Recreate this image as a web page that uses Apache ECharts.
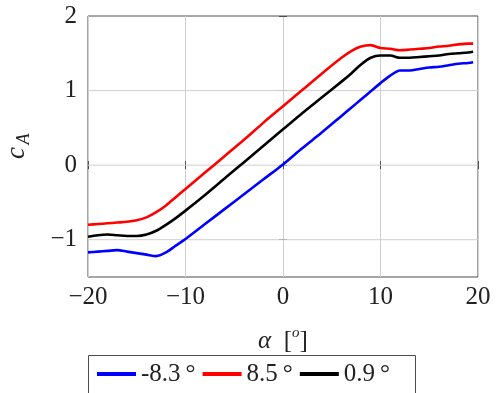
<!DOCTYPE html>
<html>
<head>
<meta charset="utf-8">
<script src="https://cdn.jsdelivr.net/npm/echarts@6/dist/echarts.min.js"></script>
<style>html,body{margin:0;padding:0;background:#fff}#c{width:500px;height:393px}</style>
</head>
<body>
<div id="c"></div>
<script>
var alpha = [-20,-19,-18,-17,-16,-15,-14,-13,-12,-11,-10,-8,-6,-4,-2,0,2,4,6,7,8,9,10,11,12,13,14,15,16,17,18,19,19.5];
var blueVals = [-1.17,-1.16,-1.15,-1.14,-1.16,-1.18,-1.20,-1.22,-1.17,-1.08,-0.99,-0.79,-0.59,-0.39,-0.19,0.01,0.23,0.44,0.66,0.77,0.88,0.99,1.10,1.20,1.27,1.27,1.29,1.31,1.32,1.34,1.36,1.37,1.38];
var redVals = [-0.80,-0.79,-0.78,-0.77,-0.76,-0.74,-0.70,-0.63,-0.54,-0.43,-0.32,-0.10,0.12,0.34,0.57,0.79,1.01,1.23,1.44,1.53,1.59,1.61,1.57,1.56,1.54,1.55,1.56,1.57,1.59,1.60,1.62,1.63,1.63];
var blackVals = [-0.96,-0.94,-0.93,-0.94,-0.95,-0.95,-0.93,-0.88,-0.80,-0.71,-0.61,-0.40,-0.18,0.04,0.26,0.48,0.70,0.91,1.12,1.23,1.35,1.44,1.47,1.47,1.44,1.44,1.45,1.46,1.47,1.49,1.50,1.51,1.52];
var seriesNames = ['-8.3\u2009°', '8.5\u2009°', '0.9\u2009°'];
var xTicks = [-20,-10,0,10,20];
var yTicks = [-1,0,1,2];
var yGrid = [-1,0,1];
var xRange = [-20,20];

function pairs(v){ return alpha.map(function(a,i){ return [a, v[i]]; }); }
function fmt(v){ return '{n|' + String(v).replace('-', '\u2212') + '}'; }
var FONT = "Liberation Serif";
var chart = echarts.init(document.getElementById('c'), null, {renderer:'canvas'});
var axisCol = '#4d4d4d';
var txtCol = '#222';
var gridCol = '#cfcfcf';
var richN = {n:{fontFamily:FONT,fontSize:25,color:txtCol,lineHeight:28}};
var gridSeries = yGrid.map(function(v){
  return {name:'g'+v,type:'line',data:[[xRange[0],v],[xRange[1],v]],z:1,silent:true,showSymbol:false,
    lineStyle:{color:gridCol,width:1},itemStyle:{color:gridCol},emphasis:{disabled:true},tooltip:{show:false}};
});
chart.setOption({
  animation:false,
  backgroundColor:'#fff',
  textStyle:{fontFamily:FONT},
  grid:{left:88,right:22,top:16,bottom:116,show:true,borderColor:axisCol,borderWidth:1,containLabel:false},
  xAxis:[{
    type:'value',min:-20,max:20,interval:10,
    axisLine:{show:false},
    axisTick:{show:true,inside:true,length:4,lineStyle:{color:axisCol}},
    axisLabel:{margin:6,fontFamily:FONT,fontSize:25,color:txtCol,formatter:fmt,rich:richN},
    splitLine:{show:true,lineStyle:{color:gridCol,width:1}}
  },{
    type:'value',position:'top',min:-20,max:20,interval:10,
    axisLine:{show:false},axisLabel:{show:false},splitLine:{show:false},
    axisTick:{show:true,inside:true,length:4,lineStyle:{color:axisCol}}
  }],
  yAxis:[{
    type:'value',min:-1.5,max:2,interval:0.5,
    axisLine:{show:false},
    axisTick:{show:true,inside:true,length:4,customValues:yTicks,lineStyle:{color:axisCol}},
    axisLabel:{margin:11,fontFamily:FONT,fontSize:25,color:txtCol,customValues:yTicks,formatter:fmt,rich:richN},
    splitLine:{show:false}
  },{
    type:'value',position:'right',min:-1.5,max:2,interval:0.5,
    axisLine:{show:false},axisLabel:{show:false},splitLine:{show:false},
    axisTick:{show:true,inside:true,length:4,customValues:yTicks,lineStyle:{color:axisCol}}
  }],
  legend:{
    left:97,top:360,padding:0,itemGap:7,itemWidth:39,itemHeight:4,icon:'rect',
    textStyle:{fontFamily:FONT,fontSize:25,color:txtCol,lineHeight:28,rich:richN},
    formatter:function(name){ return '{n|' + name + '}'; },
    data:seriesNames
  },
  series:gridSeries.concat([
    {name:seriesNames[0],type:'line',data:pairs(blueVals),showSymbol:false,smooth:0.3,z:3,lineStyle:{color:'#0000ff',width:2.6},itemStyle:{color:'#0000ff'}},
    {name:seriesNames[1],type:'line',data:pairs(redVals),showSymbol:false,smooth:0.3,z:3,lineStyle:{color:'#ff0000',width:2.6},itemStyle:{color:'#ff0000'}},
    {name:seriesNames[2],type:'line',data:pairs(blackVals),showSymbol:false,smooth:0.3,z:3,lineStyle:{color:'#000000',width:2.6},itemStyle:{color:'#000000'}}
  ]),
  graphic:[
    {type:'rect',shape:{x:88.5,y:355.5,width:327,height:60},style:{fill:'#fff',stroke:axisCol,lineWidth:1},z:0,silent:true},
    {type:'text',x:283,y:341,style:{text:'{a|α}{b|\u2002[}{s|o}{b|]}',align:'center',verticalAlign:'middle',
      rich:{a:{fontFamily:FONT,fontStyle:'italic',fontSize:25,fill:txtCol,lineHeight:30},
            b:{fontFamily:FONT,fontSize:25,fill:txtCol,lineHeight:30},
            s:{fontFamily:FONT,fontStyle:'italic',fontSize:15,fill:txtCol,verticalAlign:'top',lineHeight:30}}}},
    {type:'text',x:17,y:153,rotation:Math.PI/2,style:{text:'c',fontFamily:FONT,fontStyle:'italic',fontSize:27,fill:txtCol,align:'center',verticalAlign:'middle'}},
    {type:'text',x:24,y:139,rotation:Math.PI/2,style:{text:'A',fontFamily:FONT,fontStyle:'italic',fontSize:18,fill:txtCol,align:'center',verticalAlign:'middle'}}
  ]
});
</script>
</body>
</html>
